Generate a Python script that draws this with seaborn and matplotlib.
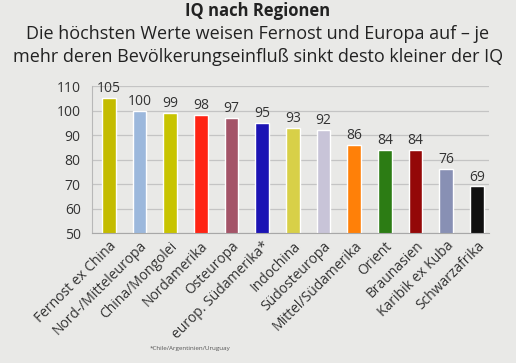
import pandas as pd
import seaborn as sns
import matplotlib.pyplot as plt

regionen = ["Fernost ex China", "Nord-/Mitteleuropa", "China/Mongolei", "Nordamerika",
            "Osteuropa", "europ. Südamerika*", "Indochina", "Südosteuropa",
            "Mittel/Südamerika", "Orient", "Braunasien", "Karibik ex Kuba", "Schwarzafrika"]
iq = [105, 100, 99, 98, 97, 95, 93, 92, 86, 84, 84, 76, 69]
farben = ["#c4bc00", "#9cb8dc", "#c8c400", "#ff2414", "#a45468", "#1c14b4", "#d8d048",
          "#c8c4d8", "#ff8008", "#2c7c14", "#940808", "#8890b4", "#101010"]

df = pd.DataFrame({"Region": regionen, "IQ": iq})

sns.set_style("white")
plt.rcParams["font.family"] = ["Open Sans", "DejaVu Sans"]
bg = "#e9e9e7"
fig = plt.figure(figsize=(5.16, 3.63), dpi=100, facecolor=bg)
ax = fig.add_axes([0.178, 0.358, 0.77, 0.405], facecolor=bg)

sns.barplot(x="Region", y="IQ", data=df, hue="Region", palette=farben,
            legend=False, width=0.45, saturation=1, ax=ax)
ax.set_ylim(50, 110)
ax.set_yticks(range(50, 111, 10))
ax.yaxis.grid(True, color="#c4c4c4", linewidth=0.9)
ax.set_axisbelow(True)
for s in ["top", "right"]:
    ax.spines[s].set_visible(False)
ax.spines["left"].set_color("#b8b8b8")
ax.spines["bottom"].set_color("#a8a8a8")
ax.set_xlim(-0.55, 12.4)
ax.set_xlabel("")
ax.set_ylabel("")
ax.tick_params(axis="y", length=0, labelsize=10, colors="#333333", pad=8)
ax.set_xticks(range(len(regionen)))
ax.set_xticklabels(regionen, rotation=45, ha="right", rotation_mode="anchor",
                   fontsize=10, color="#333333")
ax.tick_params(axis="x", length=0, pad=4)

for i, v in enumerate(iq):
    ax.text(i, v + 0.8, str(v), ha="center", va="bottom", fontsize=10, color="#333333")

fig.text(0.5, 0.995, "IQ nach Regionen", ha="center", va="top", fontsize=12,
         fontweight="bold", color="#222222")
fig.text(0.5, 0.93, "Die höchsten Werte weisen Fernost und Europa auf – je\n"
         "mehr deren Bevölkerungseinfluß sinkt desto kleiner der IQ",
         ha="center", va="top", fontsize=13, color="#222222", linespacing=1.3)
fig.text(0.29, 0.035, "*Chile/Argentinien/Uruguay", fontsize=4.5, color="#555555")

plt.savefig("out.png", dpi=100, facecolor=bg)
